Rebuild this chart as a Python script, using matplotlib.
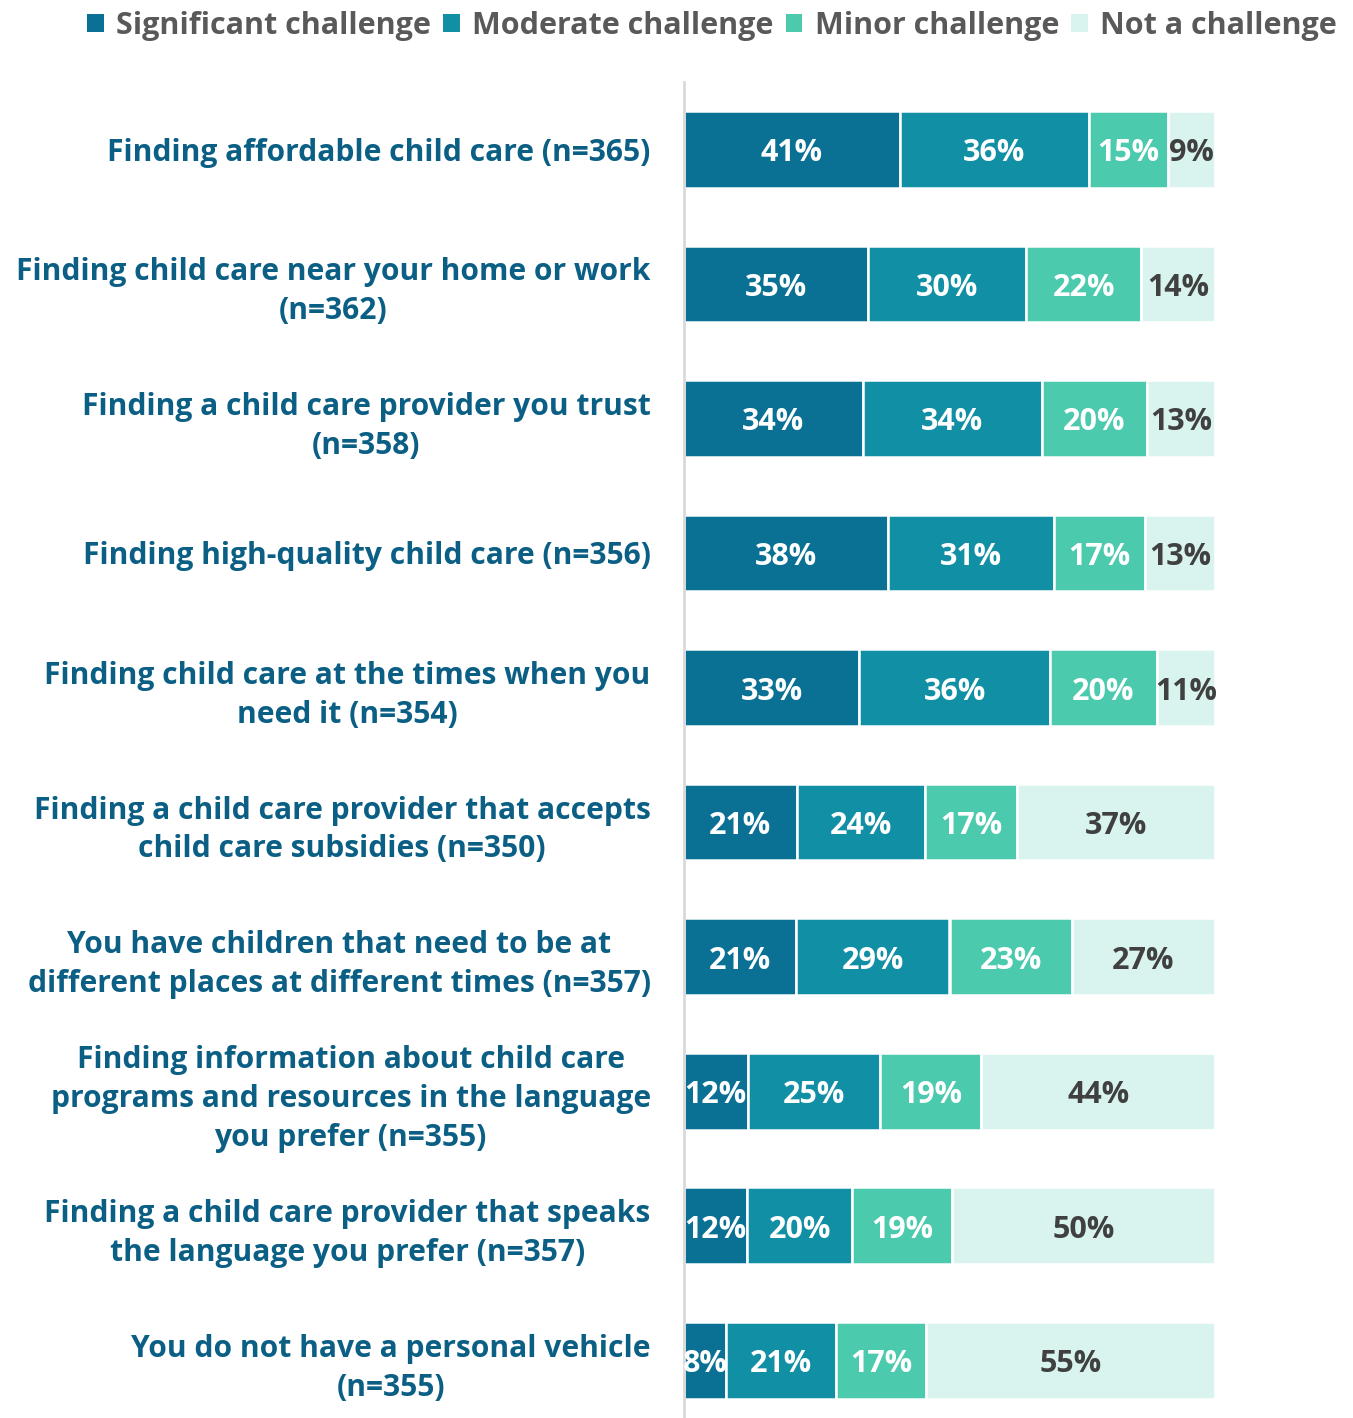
import matplotlib
matplotlib.use("Agg")
import matplotlib.pyplot as plt
from matplotlib.patches import Patch
import numpy as np

plt.rcParams['font.family'] = ['Open Sans', 'DejaVu Sans']
plt.rcParams['font.weight'] = 'bold'

categories = [
    "Finding affordable child care (n=365)",
    "Finding child care near your home or work\n(n=362)",
    "Finding a child care provider you trust\n(n=358)",
    "Finding high-quality child care (n=356)",
    "Finding child care at the times when you\nneed it (n=354)",
    "Finding a child care provider that accepts\nchild care subsidies (n=350)",
    "You have children that need to be at\ndifferent places at different times (n=357)",
    "Finding information about child care\nprograms and resources in the language\nyou prefer (n=355)",
    "Finding a child care provider that speaks\nthe language you prefer (n=357)",
    "You do not have a personal vehicle\n(n=355)",
]
series = ["Significant challenge", "Moderate challenge", "Minor challenge", "Not a challenge"]
significant = [41, 35, 34, 38, 33, 21, 21, 12, 12, 8]
moderate = [36, 30, 34, 31, 36, 24, 29, 25, 20, 21]
minor = [15, 22, 20, 17, 20, 17, 23, 19, 19, 17]
not_challenge = [9, 14, 13, 13, 11, 37, 27, 44, 50, 55]

colors = ["#0A7194", "#1190A5", "#4BCAAE", "#D9F4EE"]
text_colors = ["white", "white", "white", "#404040"]

data = np.array([significant, moderate, minor, not_challenge], dtype=float)
totals = data.sum(axis=0)
norm = data / totals * 100

fig = plt.figure(figsize=(13.53, 14.18), dpi=100)
ax = fig.add_axes([684/1353, 0.0, (1215-684)/1353, 1 - 82/1418])

y = np.arange(len(categories))
left = np.zeros(len(categories))
for i, name in enumerate(series):
    ax.barh(y, norm[i], left=left, height=0.57, color=colors[i],
            edgecolor="white", linewidth=1.8, label=name)
    for j in range(len(categories)):
        ax.text(left[j] + norm[i][j] / 2, y[j] + 0.03, f"{int(data[i][j])}%",
                ha="center", va="center", color=text_colors[i],
                fontsize=22, fontweight="bold")
    left += norm[i]

ax.set_xlim(0, 100)
ax.set_ylim((1418 - 149) / 134.6, -0.5)
ax.set_yticks(y)
ax.set_yticklabels(categories)
for t in ax.get_yticklabels():
    t.set_multialignment("center")
    t.set_color("#0B5F84")
    t.set_fontsize(21.6)
    t.set_fontweight("bold")
    t.set_linespacing(1.38)
ax.tick_params(axis="y", length=0, pad=24)
ax.set_xticks([])
for s in ["top", "right", "bottom"]:
    ax.spines[s].set_visible(False)
ax.spines["left"].set_color("#D9D9D9")
ax.spines["left"].set_linewidth(2)

handles = [Patch(facecolor=c, edgecolor="none") for c in colors]
leg = fig.legend(handles, series, loc="center", bbox_to_anchor=(712/1353, 1 - 26/1418),
                 ncol=4, frameon=False, fontsize=22, handlelength=0.55, handleheight=0.55,
                 handletextpad=0.4, columnspacing=0.4)
for t in leg.get_texts():
    t.set_color("#595959")
    t.set_fontweight("bold")

fig.savefig("out.png", dpi=100)
